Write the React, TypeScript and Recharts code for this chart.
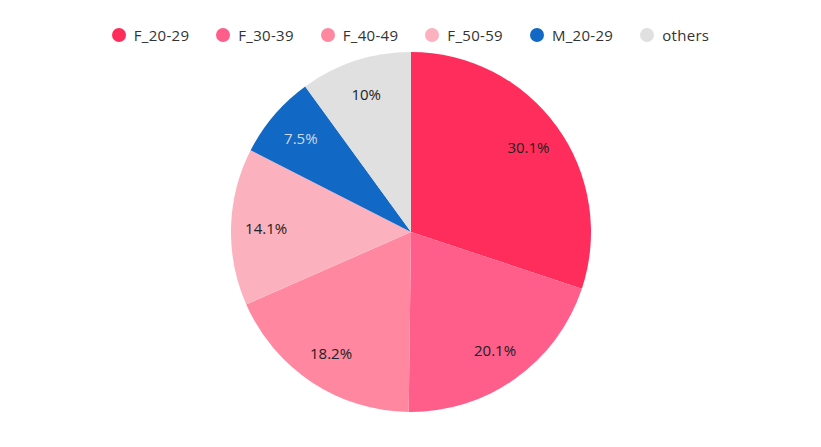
import React from "react";
import { PieChart, Pie, Cell } from "recharts";

const categories = ["F_20-29", "F_30-39", "F_40-49", "F_50-59", "M_20-29", "others"];
const values = [30.1, 20.1, 18.2, 14.1, 7.5, 10];
const colors = ["#FF2D5B", "#FF5D8A", "#FF87A0", "#FBB1BE", "#1169C5", "#E0E0E0"];
const labelColors = ["#222222", "#222222", "#222222", "#222222", "#D0D8E8", "#222222"];

const data = categories.map((name, i) => ({ name, value: values[i] }));

const FONT = "'Open Sans', 'DejaVu Sans', sans-serif";
const RAD = Math.PI / 180;

const renderLabel = (props: any) => {
  const { cx, cy, midAngle, outerRadius, index, value } = props;
  const r = outerRadius * 0.805;
  const x = cx + r * Math.cos(-midAngle * RAD);
  const y = cy + r * Math.sin(-midAngle * RAD);
  return (
    <text
      x={x}
      y={y}
      fill={labelColors[index]}
      textAnchor="middle"
      dominantBaseline="central"
      fontSize={15}
      fontFamily={FONT}
    >
      {`${value}%`}
    </text>
  );
};

const LegendBar = () => (
  <div
    style={{
      position: "absolute",
      top: 18,
      left: 0,
      width: 805,
      display: "flex",
      justifyContent: "center",
      alignItems: "center",
      fontFamily: FONT,
      fontSize: 15,
      letterSpacing: 0.3,
      color: "#333",
      height: 18,
    }}
  >
    {categories.map((c, i) => (
      <div key={c} style={{ display: "flex", alignItems: "center", marginRight: i < categories.length - 1 ? 27 : 0 }}>
        <span
          style={{
            display: "inline-block",
            width: 14,
            height: 14,
            borderRadius: 7,
            background: colors[i],
            marginRight: 8,
          }}
        />
        <span>{c}</span>
      </div>
    ))}
  </div>
);

export default function App() {
  return (
    <div style={{ position: "relative", width: 821, height: 439 }}>
      <PieChart width={821} height={439} margin={{ top: 0, right: 0, bottom: 0, left: 0 }}>
        <Pie
          data={data}
          dataKey="value"
          nameKey="name"
          cx={403}
          cy={224}
          outerRadius={180}
          startAngle={90}
          endAngle={-270}
          stroke="none"
          label={renderLabel}
          labelLine={false}
          isAnimationActive={false}
        >
          {data.map((d, i) => (
            <Cell key={d.name} fill={colors[i]} />
          ))}
        </Pie>
      </PieChart>
      <LegendBar />
    </div>
  );
}
